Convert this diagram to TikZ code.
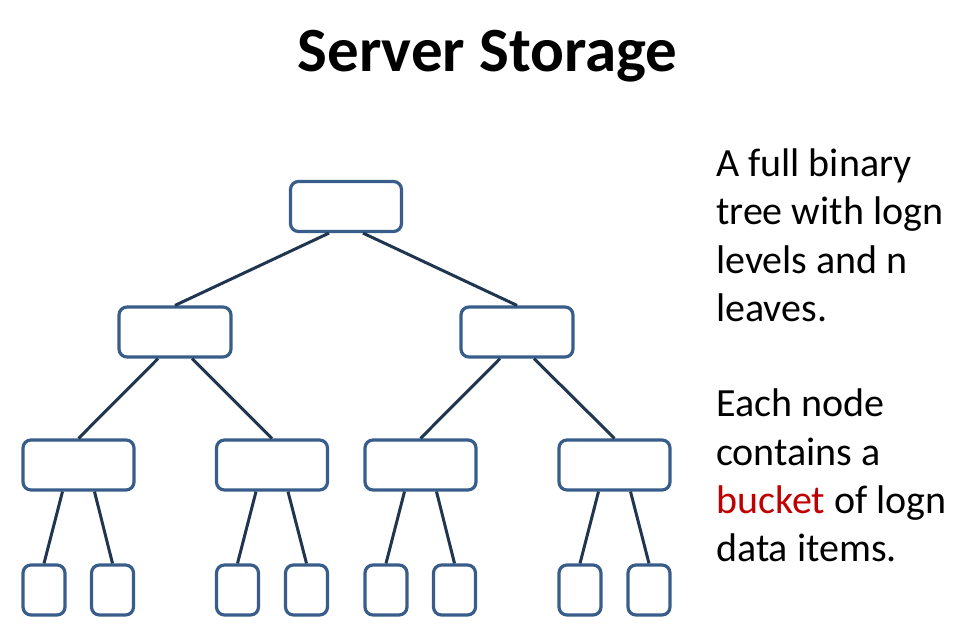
\documentclass[tikz,border=0pt]{standalone}
\usepackage{fontspec}
\setmainfont{Carlito}
\definecolor{boxblue}{HTML}{385D8A}
\definecolor{edgeblue}{HTML}{1F3550}
\definecolor{bucketred}{HTML}{C00000}
\begin{document}
\begin{tikzpicture}[x=1pt,y=-1pt,
  treebox/.style={draw=boxblue, line width=3.2pt, rounded corners=8pt, fill=white, inner sep=0pt, minimum width=111pt, minimum height=50pt},
  leafbox/.style={draw=boxblue, line width=3.2pt, rounded corners=8pt, fill=white, inner sep=0pt, minimum width=42pt, minimum height=50pt},
  link/.style={draw=edgeblue, line width=3pt},
  descline/.style={anchor=base west, inner sep=0pt, font=\fontsize{40}{48}\selectfont}]
\useasboundingbox (0,0) rectangle (960,630);
% title
\node[anchor=base, inner sep=0pt, font=\fontsize{63}{72}\selectfont\bfseries] (title) at (487.5,71.7) {Server Storage};
% tree nodes
\node[treebox] (r) at (346,206.5) {};
\node[treebox, minimum width=112pt] (a) at (175,332) {};
\node[treebox, minimum width=112pt] (b) at (517,332) {};
\node[treebox] (aa) at (78.5,465) {};
\node[treebox] (ab) at (272,465) {};
\node[treebox] (ba) at (420.5,465) {};
\node[treebox] (bb) at (614.5,465) {};
\node[leafbox] (l1) at (44,590) {};
\node[leafbox] (l2) at (112.5,590) {};
\node[leafbox] (l3) at (237.5,590) {};
\node[leafbox] (l4) at (306.5,590) {};
\node[leafbox] (l5) at (386,590) {};
\node[leafbox] (l6) at (454.5,590) {};
\node[leafbox] (l7) at (580,590) {};
\node[leafbox] (l8) at (649,590) {};
% connectors
\draw[link] ([xshift=-17pt]r.south) -- (a.north);
\draw[link] ([xshift=17pt]r.south) -- (b.north);
\draw[link] ([xshift=-17pt]a.south) -- (aa.north);
\draw[link] ([xshift=17pt]a.south) -- (ab.north);
\draw[link] ([xshift=-17pt]b.south) -- (ba.north);
\draw[link] ([xshift=17pt]b.south) -- (bb.north);
\draw[link] ([xshift=-16pt]aa.south) -- (l1.north);
\draw[link] ([xshift=16pt]aa.south) -- (l2.north);
\draw[link] ([xshift=-16pt]ab.south) -- (l3.north);
\draw[link] ([xshift=16pt]ab.south) -- (l4.north);
\draw[link] ([xshift=-16pt]ba.south) -- (l5.north);
\draw[link] ([xshift=16pt]ba.south) -- (l6.north);
\draw[link] ([xshift=-16pt]bb.south) -- (l7.north);
\draw[link] ([xshift=16pt]bb.south) -- (l8.north);
% description
\node[descline] (d1) at (716,176.7) {A full binary};
\node[descline] (d2) at (716,224.9) {tree with logn};
\node[descline] (d3) at (716,273.1) {levels and n};
\node[descline] (d4) at (716,321.3) {leaves.};
\node[descline] (d5) at (716,416.8) {Each node};
\node[descline] (d6) at (716,465.0) {contains a};
\node[descline] (d7) at (716,513.2) {\textcolor{bucketred}{bucket} of logn};
\node[descline] (d8) at (716,561.4) {data items.};
\end{tikzpicture}
\end{document}
